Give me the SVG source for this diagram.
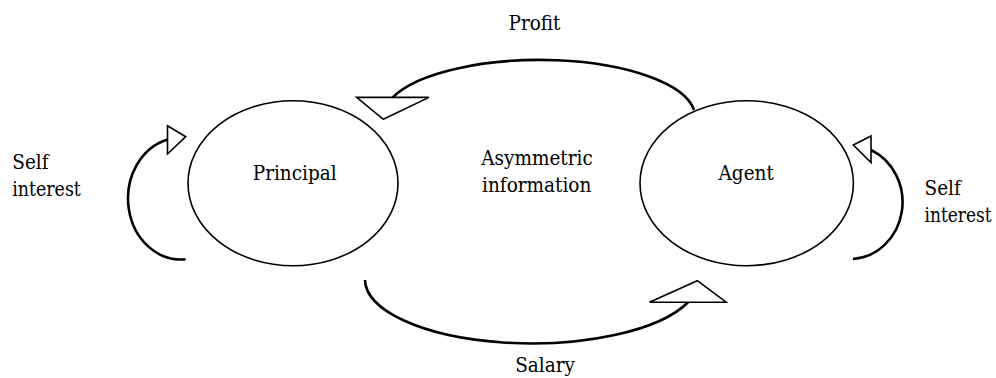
<svg xmlns="http://www.w3.org/2000/svg" width="996" height="378" viewBox="0 0 996 378">
<style>
  .node { fill: #ffffff; stroke: #000000; stroke-width: 1.6; }
  .lbl { font-family: 'DejaVu Serif Condensed', 'DejaVu Serif', serif; font-stretch: condensed; font-size: 20.5px; fill: #000000; }
  .arc { fill: none; stroke: #000000; stroke-width: 2.6; }
  .head { fill: #ffffff; stroke: #000000; stroke-width: 1.6; stroke-linejoin: miter; }
</style>
<rect width="996" height="378" fill="#ffffff"/>
<g id="connectors">
  <g id="profit">
    <path class="arc" d="M694,110 A156 57 0 0 0 392.7,97.3"/>
    <polygon class="head" points="356.7,97.4 429,97.4 383.3,119.3"/>
  </g>
  <g id="salary">
    <path class="arc" d="M365,280 A167 64 0 0 0 688.3,302"/>
    <polygon class="head" points="649.5,302.2 726.2,302.2 697.3,280.7"/>
  </g>
  <g id="self-principal">
    <path class="arc" d="M185.7,259.3 A53 61 0 0 1 167.7,139.5"/>
    <polygon class="head" points="167.5,125.8 185.7,136.7 167.5,154"/>
  </g>
  <g id="self-agent">
    <path class="arc" d="M853,259 A53 57 0 0 0 871,150"/>
    <polygon class="head" points="871,136 853.3,145 871,162.5"/>
  </g>
</g>
<g id="principal">
  <ellipse class="node" cx="293" cy="183.2" rx="105" ry="82.5"/>
  <text class="lbl" x="294.7" y="180" text-anchor="middle">Principal</text>
</g>
<g id="agent">
  <ellipse class="node" cx="746.7" cy="183.2" rx="106.7" ry="82.5"/>
  <text class="lbl" x="746.2" y="180" text-anchor="middle">Agent</text>
</g>
<g id="asymmetric">
  <text class="lbl" x="537" y="165" text-anchor="middle">Asymmetric</text>
  <text class="lbl" x="536.7" y="191.7" text-anchor="middle">information</text>
</g>
<g id="labels">
  <text class="lbl" x="534.5" y="30" text-anchor="middle">Profit</text>
  <text class="lbl" x="545" y="371.5" text-anchor="middle">Salary</text>
  <text class="lbl" x="12.3" y="169.3">Self</text>
  <text class="lbl" x="12.3" y="196" textLength="68.5" lengthAdjust="spacingAndGlyphs">interest</text>
  <text class="lbl" x="924.5" y="195">Self</text>
  <text class="lbl" x="924.5" y="221.7" font-size="19.5" textLength="67" lengthAdjust="spacingAndGlyphs">interest</text>
</g>
</svg>
